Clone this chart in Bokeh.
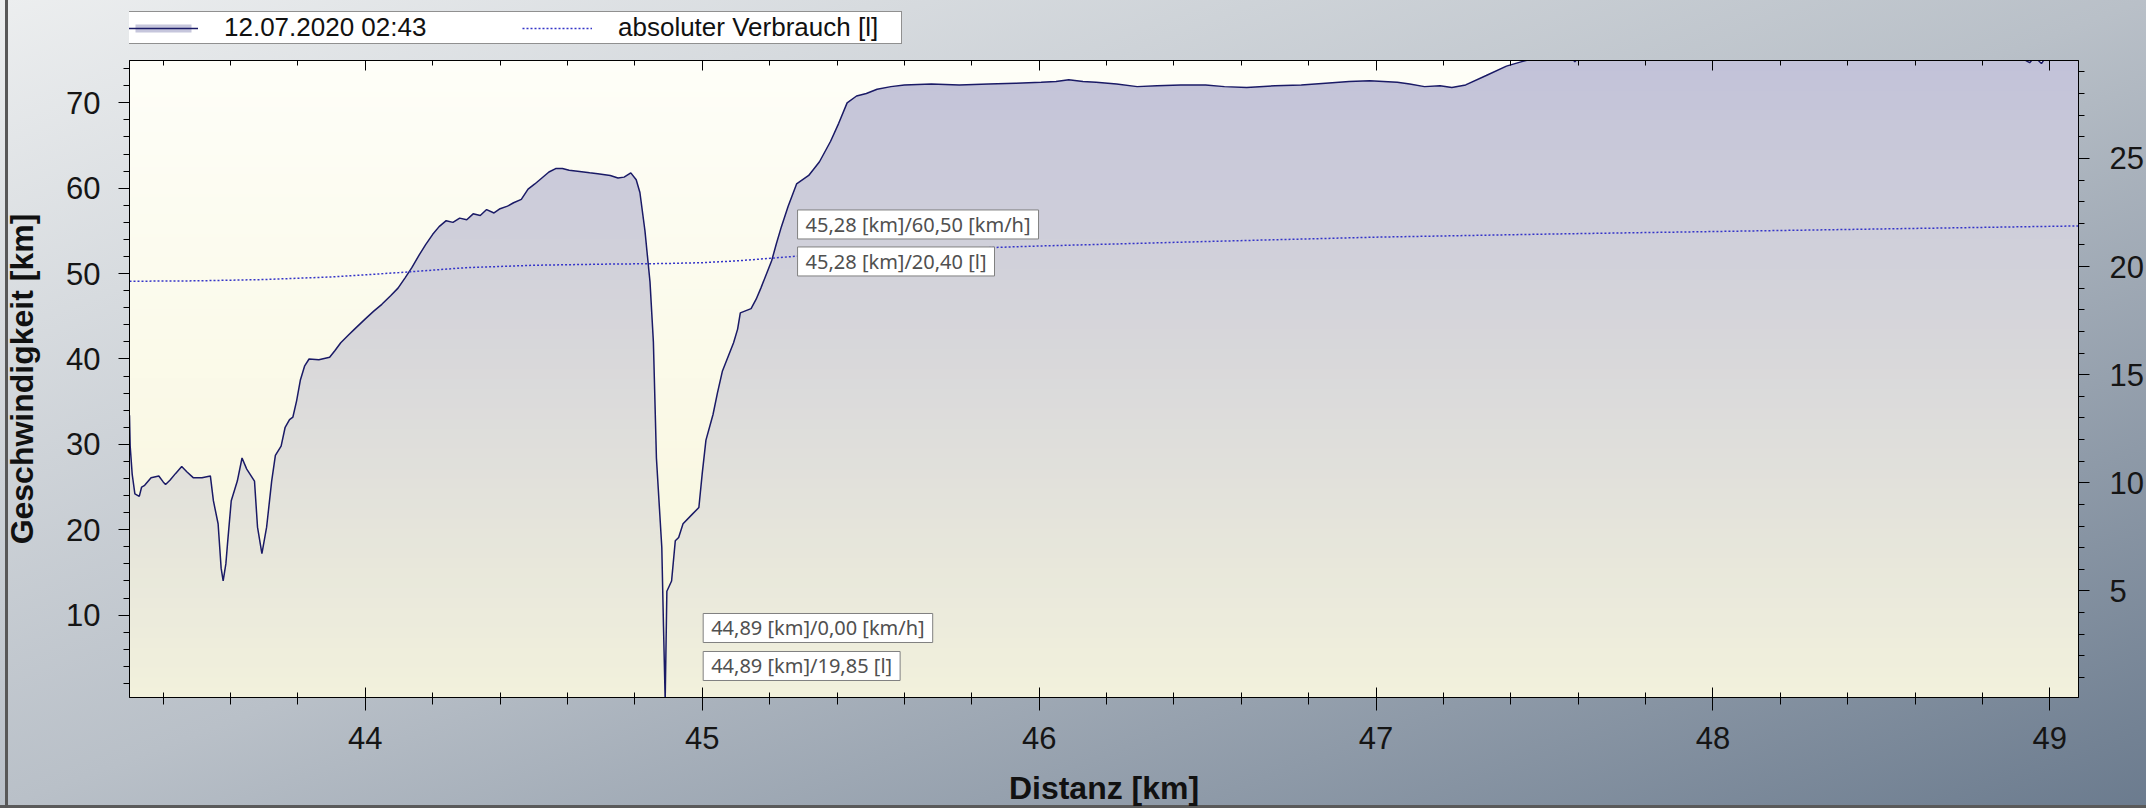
import numpy as np
from bokeh.plotting import figure
from bokeh.layouts import column
from bokeh.models import (Range1d, LinearAxis, SingleIntervalTicker, Legend, LegendItem, Label,
                          CustomJSTickFormatter)
from bokeh.embed import file_html
from bokeh.resources import INLINE

# ---------------- data ----------------
dist_km = [
    43.300, 43.302, 43.308, 43.316, 43.329, 43.336, 43.345, 43.364, 43.387, 43.400,
    43.407, 43.420, 43.437, 43.455, 43.470, 43.489, 43.515, 43.540, 43.549, 43.563,
    43.572, 43.578, 43.586, 43.591, 43.602, 43.620, 43.634, 43.648, 43.671, 43.680,
    43.693, 43.707, 43.722, 43.733, 43.750, 43.762, 43.775, 43.785, 43.796, 43.807,
    43.820, 43.833, 43.862, 43.894, 43.910, 43.927, 43.950, 43.968, 44.000, 44.025,
    44.049, 44.075, 44.097, 44.118, 44.138, 44.160, 44.179, 44.200, 44.219, 44.240,
    44.260, 44.280, 44.301, 44.320, 44.341, 44.360, 44.382, 44.400, 44.422, 44.440,
    44.463, 44.483, 44.503, 44.524, 44.545, 44.565, 44.585, 44.605, 44.630, 44.666,
    44.690, 44.727, 44.750, 44.768, 44.788, 44.804, 44.815, 44.830, 44.845, 44.855,
    44.864, 44.880, 44.885, 44.890, 44.895, 44.909, 44.920, 44.930, 44.943, 44.970,
    44.990, 45.000, 45.011, 45.032, 45.045, 45.060, 45.093, 45.105, 45.113, 45.145,
    45.160, 45.174, 45.206, 45.220, 45.235, 45.255, 45.280, 45.316, 45.348, 45.381,
    45.405, 45.430, 45.458, 45.487, 45.519, 45.560, 45.600, 45.680, 45.763, 45.850,
    45.930, 46.006, 46.050, 46.088, 46.130, 46.169, 46.230, 46.291, 46.350, 46.420,
    46.494, 46.550, 46.616, 46.700, 46.778, 46.850, 46.920, 46.981, 47.063, 47.100,
    47.144, 47.190, 47.225, 47.266, 47.327, 47.387, 47.430, 47.469, 47.520, 47.575,
    47.590, 47.605, 47.800, 48.200, 48.600, 48.900, 48.940, 48.955, 48.975, 48.990,
    49.085,
]
speed_kmh = [
    33.4, 29.8, 26.5, 24.2, 23.9, 25.0, 25.2, 26.1, 26.3, 25.6,
    25.3, 25.8, 26.6, 27.4, 26.8, 26.1, 26.1, 26.3, 23.4, 20.7,
    15.5, 14.0, 16.0, 18.4, 23.4, 25.7, 28.4, 27.1, 25.7, 20.3,
    17.2, 20.3, 25.7, 28.7, 29.8, 32.0, 32.9, 33.2, 35.1, 37.5,
    39.2, 40.0, 39.9, 40.2, 41.0, 41.9, 42.8, 43.5, 44.7, 45.6,
    46.4, 47.4, 48.3, 49.5, 50.7, 52.2, 53.4, 54.6, 55.5, 56.2,
    56.0, 56.5, 56.3, 57.0, 56.8, 57.5, 57.1, 57.6, 57.9, 58.3,
    58.7, 59.9, 60.5, 61.2, 61.9, 62.3, 62.3, 62.1, 62.0, 61.8,
    61.7, 61.5, 61.2, 61.3, 61.8, 61.0, 59.5, 55.0, 49.0, 42.0,
    28.4, 17.9, 8.7, 0.0, 12.8, 14.0, 18.7, 19.1, 20.7, 21.8,
    22.6, 26.6, 30.5, 33.5, 36.0, 38.6, 41.9, 43.5, 45.4, 45.9,
    47.0, 48.3, 51.5, 53.5, 55.5, 57.9, 60.5, 61.5, 63.1, 65.5,
    67.6, 70.0, 70.8, 71.1, 71.6, 71.9, 72.1, 72.2, 72.1, 72.2,
    72.3, 72.4, 72.5, 72.7, 72.5, 72.4, 72.2, 71.9, 72.0, 72.1,
    72.1, 71.9, 71.8, 72.0, 72.1, 72.3, 72.5, 72.6, 72.4, 72.2,
    71.9, 72.0, 71.8, 72.1, 73.2, 74.3, 74.8, 75.2, 75.5, 75.6,
    74.8, 75.5, 75.8, 75.9, 75.8, 75.6, 74.7, 75.4, 74.6, 75.5,
    75.6,
]
cons_dist_km = [43.30, 43.50, 43.70, 43.90, 44.10, 44.30, 44.50, 44.70, 44.89, 45.00,
                45.10, 45.20, 45.28, 45.40, 45.60, 45.80, 46.00, 46.50, 47.00, 47.50,
                48.00, 48.50, 49.085]
cons_liter = [19.32, 19.34, 19.40, 19.52, 19.72, 19.95, 20.06, 20.11, 20.14, 20.18,
              20.26, 20.38, 20.48, 20.60, 20.74, 20.85, 20.95, 21.16, 21.36, 21.50,
              21.62, 21.74, 21.88]

tip_km = [45.28, 44.89]
tip_speed = [60.50, 0.00]
tip_liter = [20.40, 19.85]

series_names = ["12.07.2020 02:43", "absoluter Verbrauch [l]"]
x_title = "Distanz [km]"
y_title = "Geschwindigkeit [km]"

X0, X1 = 43.30, 49.085
Y0, Y1 = 0.35, 74.96
L0, L1 = 0.07, 29.53

FONT = "Liberation Sans"
SPEED_LINE = dict(line_color="#1a1a66", line_width=1.5)
CONS_LINE = dict(line_color="#3434c8", line_width=1.5, line_dash="2 2")
LEGEND_FILL = "#c6c6dc"

# ---------------- legend strip (top) ----------------
lf = figure(width=2146, height=44, output_backend="svg", toolbar_location=None,
            x_range=Range1d(0, 1), y_range=Range1d(0, 1),
            x_axis_location=None, y_axis_location=None, min_border=0)
lf.border_fill_alpha = 0
lf.background_fill_alpha = 0
lf.outline_line_color = None
lf.xgrid.visible = False
lf.ygrid.visible = False
# legend proxies: same series, they fall outside this strip's (0..1) ranges and stay hidden
lg_fill = lf.varea(x=dist_km, y1=speed_kmh, y2=speed_kmh, fill_color=LEGEND_FILL)
lg_speed = lf.line(x=dist_km, y=speed_kmh, **SPEED_LINE)
lg_cons = lf.line(x=cons_dist_km, y=cons_liter, **CONS_LINE)
legend = Legend(
    items=[LegendItem(label=series_names[0], renderers=[lg_fill, lg_speed]),
           LegendItem(label=series_names[1], renderers=[lg_cons])],
    location=(-2, 0), orientation="horizontal",
    padding=0, margin=0, spacing=15,
    glyph_width=70, glyph_height=10, label_standoff=26, label_width=283,
    label_text_font=FONT, label_text_font_size="26px", label_text_color="#111111",
    border_line_color="#222222", border_line_width=1.3,
    background_fill_color="#ffffff", background_fill_alpha=1,
)
lf.add_layout(legend)

# ---------------- main chart ----------------
p = figure(width=2146, height=764, output_backend="svg", toolbar_location=None,
           x_range=Range1d(X0, X1), y_range=Range1d(Y0, Y1),
           min_border_left=129, min_border_right=68, min_border_top=16, min_border_bottom=111)
p.extra_y_ranges = {"liter": Range1d(L0, L1)}
p.border_fill_alpha = 0
p.background_fill_color = "#fbfaec"
p.outline_line_color = "#000000"
p.outline_line_width = 1
p.xgrid.visible = False
p.ygrid.visible = False


def hex2rgb(h):
    return np.array([int(h[i:i + 2], 16) for i in (1, 3, 5)], dtype=float)


# plot-area background gradient
n = 256
t = np.linspace(0, 1, n)
bg_bot, bg_top = hex2rgb("#f7f5d9"), hex2rgb("#fefef8")
rgb = bg_bot[None, :] + (bg_top - bg_bot)[None, :] * t[:, None]
img = np.zeros((n, 1), dtype=np.uint32)
vv = img.view(dtype=np.uint8).reshape((n, 1, 4))
vv[:, 0, 0:3] = np.round(rgb).astype(np.uint8)
vv[:, 0, 3] = 255
p.image_rgba(image=[img], x=X0, y=Y0, dw=X1 - X0, dh=Y1 - Y0)

# gradient area fill under the speed curve (horizontal bands)
xs = np.array(dist_km)
sp = np.array(speed_kmh)
K = 64
edges = np.linspace(Y0, Y1, K + 1)
fill_bot, fill_top = hex2rgb("#f2f1dc"), hex2rgb("#c2c2d9")
for k in range(K):
    lo, hi = edges[k], edges[k + 1]
    if k == K - 1:
        hi = sp.max() + 1
    f = (0.5 * (edges[k] + edges[k + 1]) - Y0) / (Y1 - Y0)
    c = fill_bot + (fill_top - fill_bot) * f
    col = "#%02x%02x%02x" % tuple(int(round(q)) for q in c)
    p.varea(x=xs, y1=np.minimum(sp, lo), y2=np.minimum(sp, hi + 0.3), fill_color=col)

p.line(xs, sp, **SPEED_LINE)
p.line(cons_dist_km, cons_liter, y_range_name="liter", **CONS_LINE)


def style_axis(ax):
    ax.axis_line_color = "#000000"
    ax.axis_line_width = 1
    ax.major_tick_line_color = "#000000"
    ax.minor_tick_line_color = "#000000"
    ax.major_label_text_font = FONT
    ax.major_label_text_font_size = "31px"
    ax.major_label_text_color = "#151515"
    ax.axis_label_text_font = FONT
    ax.axis_label_text_font_style = "bold"
    ax.axis_label_text_color = "#111111"


xa = p.xaxis[0]
xa.ticker = SingleIntervalTicker(interval=1, num_minor_ticks=5)
style_axis(xa)
xa.major_tick_in, xa.major_tick_out = 10, 13
xa.minor_tick_in, xa.minor_tick_out = 5, 7
xa.major_label_standoff = 16
xa.axis_label = x_title
xa.axis_label_text_font_size = "32px"
xa.axis_label_standoff = 18

ya = p.yaxis[0]
ya.ticker = SingleIntervalTicker(interval=10, num_minor_ticks=5)
style_axis(ya)
ya.major_tick_in, ya.major_tick_out = 0, 11
ya.minor_tick_in, ya.minor_tick_out = 0, 6
ya.major_label_standoff = 18
ya.axis_label = y_title
ya.axis_label_text_font_size = "32px"
ya.axis_label_standoff = 23

ra = LinearAxis(y_range_name="liter", ticker=SingleIntervalTicker(interval=5, num_minor_ticks=5))
style_axis(ra)
ra.major_tick_in, ra.major_tick_out = 0, 11
ra.minor_tick_in, ra.minor_tick_out = 0, 6
ra.major_label_standoff = 20
p.add_layout(ra, "right")

ta = LinearAxis(ticker=SingleIntervalTicker(interval=1, num_minor_ticks=5),
                formatter=CustomJSTickFormatter(code="return ''"))
style_axis(ta)
ta.major_tick_in, ta.major_tick_out = 10, 0
ta.minor_tick_in, ta.minor_tick_out = 5, 0
ta.major_label_text_font_size = "10px"
ta.major_label_standoff = 0
p.add_layout(ta, "above")


# ---------------- tooltip boxes ----------------
def fmt(v):
    return f"{v:.2f}".replace(".", ",")


def tip(xv, yv, text, xo, yo, shadow=False):
    common = dict(x=xv, y=yv, x_units="data", y_units="data", text=text, anchor="top_left",
                  text_font="Noto Sans", text_font_size="20px",
                  padding=dict(left=8, right=8, top=1, bottom=1))
    if shadow:
        p.add_layout(Label(x_offset=xo + 5, y_offset=yo - 5, text_alpha=0,
                           background_fill_color="#000000", background_fill_alpha=0.22,
                           border_line_alpha=0, **common))
    p.add_layout(Label(x_offset=xo, y_offset=yo, text_color="#505050",
                       background_fill_color="#ffffff", background_fill_alpha=1,
                       border_line_color="#808080", border_line_width=1, **common))


# upper pair (45,28 km)
tip(tip_km[0], tip_speed[0], f"{fmt(tip_km[0])} [km]/{fmt(tip_speed[0])} [km/h]", 1, -26, shadow=True)
tip(tip_km[0], tip_speed[0], f"{fmt(tip_km[0])} [km]/{fmt(tip_liter[0])} [l]", 1, -63)
# lower pair (44,89 km)
tip(tip_km[1], tip_speed[1], f"{fmt(tip_km[1])} [km]/{fmt(tip_speed[1])} [km/h]", 38, 87)
tip(tip_km[1], tip_speed[1], f"{fmt(tip_km[1])} [km]/{fmt(tip_liter[1])} [l]", 38, 49)

page_bg = ("linear-gradient(to right, transparent 5px, #585858 5px, #585858 8px, transparent 8px), "
           "linear-gradient(to bottom, transparent 805px, #5a5a5a 805px), "
           "linear-gradient(to bottom right, #eceeef 0%, #b9c0c8 50%, #6b7b8e 100%)")
page = column(lf, p, spacing=0, styles={"background": page_bg})

open("out.html", "w").write(file_html(page, INLINE))
